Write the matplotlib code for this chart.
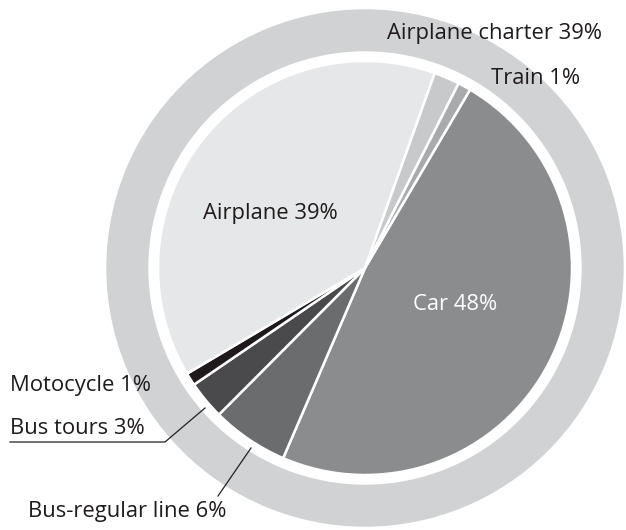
import matplotlib.pyplot as plt
from matplotlib.patches import Circle

# shares, clockwise from the top-right
modes = ["Car", "Bus-regular line", "Bus tours", "Motocycle", "Airplane", "Airplane charter", "Train"]
shares = [48, 6, 3, 1, 39, 2, 1]
labels = ["Car 48%", "Bus-regular line 6%", "Bus tours 3%", "Motocycle 1%",
          "Airplane 39%", "Airplane charter 39%", "Train 1%"]
colors = ["#8b8c8e", "#6b6c6e", "#4a4a4c", "#1e1a1b", "#e6e7e8", "#c8c9cb", "#a9aaac"]

W, H = 626, 530
fig = plt.figure(figsize=(W / 100, H / 100), dpi=100)
ax = fig.add_axes([0, 0, 1, 1])

cx, cy = 365, H - 268
ax.add_patch(Circle((cx, cy), 258, color="#d1d2d4", zorder=0))
ax.add_patch(Circle((cx, cy), 216, color="white", zorder=1))

wedges, _ = ax.pie(shares, colors=colors, startangle=59.5, counterclock=False,
                   center=(cx, cy), radius=207,
                   wedgeprops=dict(edgecolor="white", linewidth=1.8))
for w in wedges:
    w.set_zorder(2)

font = dict(family="Open Sans", fontsize=15.8, color="#1f1b1c")

ax.text(270, H - 213, labels[4], ha="center", va="center", **font)
ax.text(455, H - 305, labels[0], ha="center", va="center", **{**font, "color": "white"})
ax.text(602, H - 33, labels[5], ha="right", va="center", **font)
ax.text(536, H - 78, labels[6], ha="center", va="center", **font)
ax.text(10, H - 386, labels[3], ha="left", va="center", **font)
ax.text(10, H - 428, labels[2], ha="left", va="center", **font)
ax.text(28, H - 512, labels[1], ha="left", va="center", **font)

# leader lines
ax.plot([10, 165, 205], [H - 442, H - 442, H - 408], color="#231f20", lw=0.9, zorder=3)
ax.plot([218, 251], [H - 496, H - 448], color="#231f20", lw=0.9, zorder=3)

ax.set_xlim(0, W)
ax.set_ylim(0, H)
ax.set_aspect("equal")
ax.axis("off")

fig.savefig("out.png", dpi=100)
